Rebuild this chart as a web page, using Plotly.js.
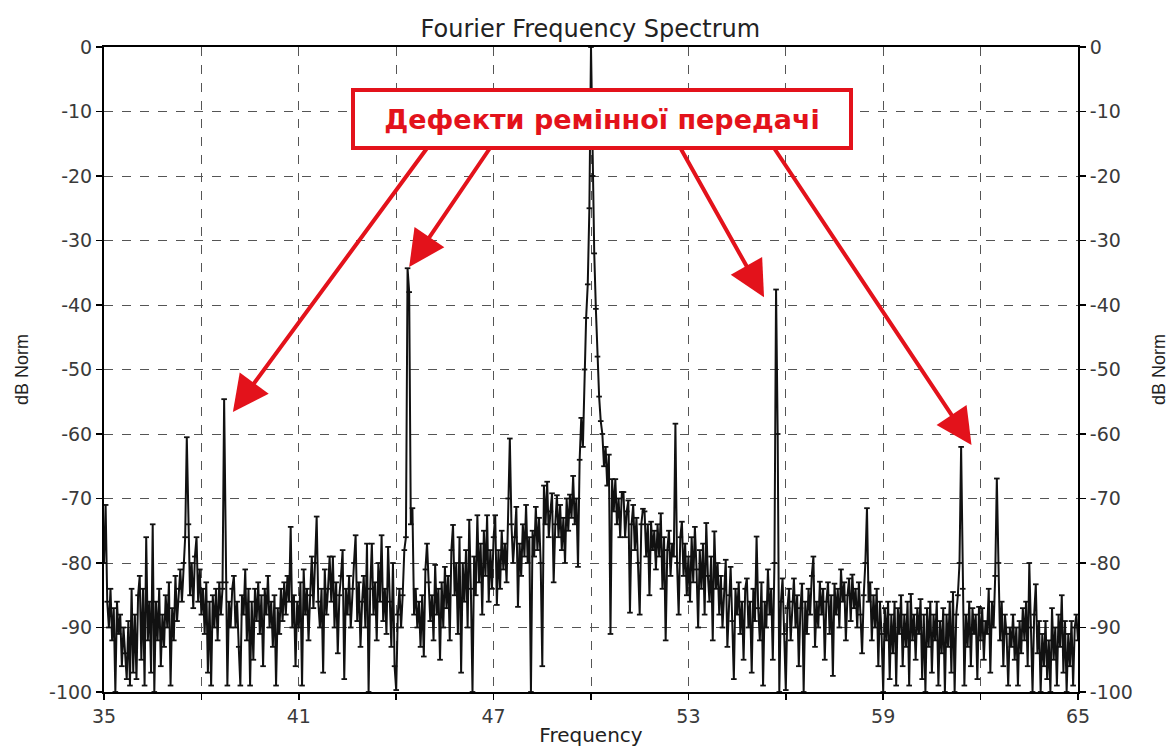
<!DOCTYPE html>
<html>
<head>
<meta charset="utf-8">
<script src="https://cdn.plot.ly/plotly-3.0.1.min.js"></script>
<style>html,body{margin:0;padding:0;background:#fff;}#chart{width:1169px;height:747px;}</style>
</head>
<body>
<div id="chart"></div>
<script>
// Spectrum sampled every 0.05 Hz starting at 35 Hz (values in dB Norm)
const freqStart = 35;
const freqStep = 0.05;
const band35 = [
  -80,-71,-86,-90,-84,-92,-87,-100,-86,-91,-88,-96,-90,-94,-98,-89,-99,-84,-97,-88,
  -98,-85,-82,-95,-84,-99,-76,-92,-86,-97,-74,-100,-86,-92,-84,-96,-88,-93,-85,-90,
  -83,-99,-87,-92,-82,-89,-84,-81,-86,-80,-76,-60.5,-74,-85,-80,-87,-79,-76,-86,-81,
  -88,-84,-91,-83,-97,-86,-99,-85,-90,-84,-92,-83,-88,-84,-54.6,-83,-99,-86,-90,-84,
  -82,-90,-86,-93,-99,-85,-88,-81,-92,-84,-99,-86,-95,-84,-89,-83,-91,-85,-96,-84
];
const band40 = [
  -88,-82,-90,-86,-93,-85,-99,-87,-91,-84,-89,-83,-88,-82,-86,-74.4,-90,-85,-96,-86,
  -90,-83,-99,-81,-88,-84,-92,-85,-79,-87,-80,-72.8,-86,-90,-84,-97,-81,-88,-84,-79,
  -86,-79,-90,-83,-94,-85,-82,-78,-98,-84,-88,-82,-90,-84,-80,-75.7,-89,-83,-93,-86,
  -82,-90,-77,-100,-84,-77,-88,-83,-92,-80,-86,-75.7,-89,-84,-91,-77.5,-86,-93,-80,-96,
  -99.7,-88,-84,-90,-85,-78,-76,-34.3,-38,-74,-71.5,-88,-84,-90,-86,-93,-85,-94.5,-81,-77
];
const band45 = [
  -83,-89,-85,-92,-80.3,-88,-84,-95,-83,-90,-80.6,-87,-82,-92,-78,-74.1,-85,-80,-91,-76,
  -97,-80,-86,-78,-90,-73.3,-84,-100,-79,-85,-72.6,-83,-77,-88,-75,-82,-72.6,-86,-78,-84,
  -76,-72.6,-86.5,-78,-84,-75,-81,-77,-83,-70,-60.7,-74,-80,-76,-71.3,-86.8,-77,-82,-74,-79,
  -71,-80,-76,-100,-75,-79,-71.3,-78,-73,-80,-96,-68,-74,-67.4,-76,-72,-69.2,-83,-74,-69.5,
  -76,-71,-78,-73,-80,-70,-75,-69.4,-73,-66.5,-74,-70,-80.6,-64,-57.5,-62,-50,-42,-36.8,-25
];
const band50 = [
  0,-20,-32,-40.6,-48,-54.2,-58,-60,-65,-62,-68,-63.2,-91,-67,-72,-67,-74,-70,-76,-69,
  -69,-76,-72,-70.3,-87.7,-74,-71,-78,-73,-80,-88,-74,-71.6,-72,-79,-74,-85,-73.6,-78,-75,
  -81,-74,-79,-72.3,-84,-76,-92,-78,-75,-82,-77,-79,-58.4,-80,-88,-76,-73.6,-82,-77,-85,
  -79,-86,-76,-83,-74.4,-81,-90,-78,-84,-77,-88,-73.8,-82,-86,-79,-92,-75.1,-84,-80,-88,
  -82,-90,-84,-79.5,-93,-85,-80.6,-89,-98,-84,-88,-83,-91,-86,-95,-84,-82.4,-90,-86,-97
];
const band55 = [
  -84,-89,-75.9,-87,-92,-83,-99,-86,-90,-81,-88,-84,-95,-80,-37.6,-60,-100,-86,-82.4,-91,
  -99.7,-87,-84,-92,-86,-82.4,-90,-85,-96,-87,-83.2,-100,-86,-91,-84,-88,-82,-79,-93,-86,
  -90,-82.9,-88,-84,-95,-86,-83,-91,-85,-97.5,-83.2,-88,-84,-90,-81,-86,-83,-92,-85,-82.4,
  -89,-81.8,-87,-84,-90,-83,-88,-94,-85,-80,-71.5,-86,-83,-92,-85,-90,-84,-96,-86,-91,
  -100,-87,-92,-86,-98,-88,-94,-86,-99,-87,-91,-85,-96,-88,-93,-86,-99,-84.8,-92,-88
];
const band60 = [
  -95,-87,-91,-85.6,-98,-88,-100,-87,-93,-86,-97,-88,-92,-86,-99,-89,-94,-87,-100,-88,
  -93,-86,-97,-84.5,-100,-88,-85,-80,-62,-84,-99,-88,-93,-86,-96,-87,-91,-88,-98,-86.8,
  -92,-87,-95,-89,-91,-84,-97,-86,-90,-82,-66.9,-80,-92,-86,-96,-88,-91,-99,-90,-93,
  -88,-95,-90,-99,-89,-94,-87,-92,-86,-96,-80,-90,-100,-88,-83.3,-94,-89,-100,-91,-96,
  -89,-98,-92,-100,-87,-95,-90,-99,-88,-93,-85,-97,-89,-100,-91,-96,-89,-99,-90,-88,
  -92
];
const dbNorm = [].concat(band35, band40, band45, band50, band55, band60);
const freq = dbNorm.map((_, i) => +(freqStart + i * freqStep).toFixed(2));

// Axis ticks
const xTickVals = [35, 38, 41, 44, 47, 50, 53, 56, 59, 62, 65];
const xTickText = ['35', '', '41', '', '47', '', '53', '', '59', '', '65'];
const yTickVals = [0, -10, -20, -30, -40, -50, -60, -70, -80, -90, -100];
const yTickText = ['0', '-10', '-20', '-30', '-40', '-50', '-60', '-70', '-80', '-90', '-100'];

// Annotation content
const chartTitle = 'Fourier Frequency Spectrum';
const calloutText = 'Дефекти ремінної передачі';
// arrows: [tipFreq, tipDb, tailFreq, tailDb]
const arrowTips = [
  [38.97, -56.6, 45.05, -15],
  [44.40, -34.1, 46.98, -15],
  [55.33, -38.8, 52.68, -15],
  [61.72, -61.7, 55.55, -15]
];

const red = '#e3121b';
const fontFam = 'DejaVu Sans, Liberation Sans, Arial, sans-serif';
const fontFam2 = 'Liberation Sans, Arial, sans-serif';

const trace = {
  x: freq, y: dbNorm, type: 'scatter', mode: 'lines+markers',
  line: {color: '#111', width: 2},
  marker: {symbol: 'line-ew-open', size: 4, line: {color: '#000', width: 1.8}},
  hoverinfo: 'x+y', showlegend: false
};
const traceRight = {
  x: freq, y: dbNorm, type: 'scatter', mode: 'lines', yaxis: 'y2',
  line: {width: 0}, opacity: 0, hoverinfo: 'skip', showlegend: false
};

const annotations = arrowTips.map(a => ({
  x: a[0], y: a[1], ax: a[2], ay: a[3], xref: 'x', yref: 'y', axref: 'x', ayref: 'y',
  text: '', showarrow: true, arrowhead: 2, arrowsize: 1.8, arrowwidth: 4,
  arrowcolor: red, standoff: 0, startstandoff: 0
}));
annotations.push({
  x: 50.34, y: -11.16, xref: 'x', yref: 'y', showarrow: false,
  text: '<b>' + calloutText + '</b>',
  font: {family: fontFam, size: 27, color: red},
  bgcolor: '#ffffff', bordercolor: red, borderwidth: 4, borderpad: 0,
  width: 494, height: 54, xanchor: 'center', yanchor: 'middle'
});

const axisCommon = {
  showline: true, linecolor: '#000', linewidth: 2,
  ticks: 'outside', ticklen: 6, tickwidth: 1.5, tickcolor: '#000',
  tickfont: {family: fontFam, size: 19, color: '#3a3a3a'},
  zeroline: false
};

const layout = {
  width: 1169, height: 747,
  margin: {l: 104, r: 91, t: 47, b: 55},
  paper_bgcolor: '#fff', plot_bgcolor: '#fff',
  font: {family: fontFam, color: '#222'},
  title: {text: chartTitle, font: {family: fontFam, size: 24, color: '#222'},
          x: 0.505, xanchor: 'center', y: 0.962, yanchor: 'middle', yref: 'container'},
  xaxis: Object.assign({}, axisCommon, {
    range: [35, 65], tickmode: 'array', tickvals: xTickVals, ticktext: xTickText,
    mirror: true, showgrid: true, gridcolor: '#555', gridwidth: 1, griddash: 'dash',
    title: {text: 'Frequency', font: {family: fontFam, size: 20, color: '#222'}, standoff: 4}
  }),
  yaxis: Object.assign({}, axisCommon, {
    range: [-100, 0], tickmode: 'array', tickvals: yTickVals, ticktext: yTickText,
    showgrid: true, gridcolor: '#555', gridwidth: 1, griddash: 'dash',
    title: {text: 'dB Norm', font: {family: fontFam2, size: 18, color: '#222'}, standoff: 16}
  }),
  yaxis2: Object.assign({}, axisCommon, {
    range: [-100, 0], tickmode: 'array', tickvals: yTickVals, ticktext: yTickText,
    overlaying: 'y', side: 'right', showgrid: false,
    title: {text: 'dB Norm', font: {family: fontFam2, size: 18, color: '#222'}, standoff: 20}
  }),
  annotations: annotations
};

Plotly.newPlot('chart', [trace, traceRight], layout, {displayModeBar: false, staticPlot: true});
</script>
</body>
</html>
